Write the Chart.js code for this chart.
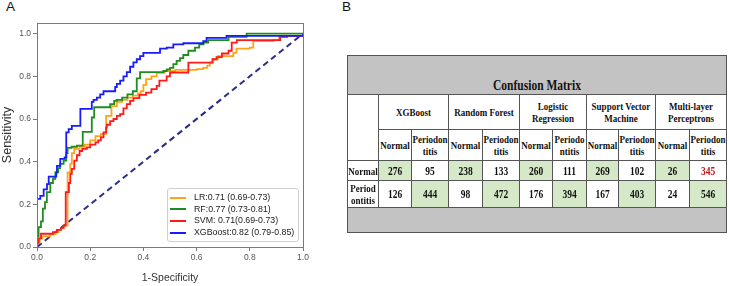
<!DOCTYPE html>
<html>
<head>
<meta charset="utf-8">
<script src="https://cdn.jsdelivr.net/npm/chart.js@4.4.0/dist/chart.umd.min.js"></script>
<style>
    body { margin: 0; width: 729px; height: 286px; background: #fff; position: relative; overflow: hidden; }
    .panelLabel { position: absolute; font: 13.5px "Liberation Sans", Arial, sans-serif; color: #111; }
    #rocBox { position: absolute; left: 0; top: 0; width: 320px; height: 286px; }
    #rocLegend {
        position: absolute; left: 167px; top: 188px; width: 132px; height: 54px;
        border: 1px solid #cfcfcf; border-radius: 3px; background: rgba(255,255,255,0.85);
        box-sizing: border-box; padding-top: 3px;
        font: 8.8px "Liberation Sans", Arial, sans-serif; color: #222;
    }
    .legendRow { height: 11.7px; line-height: 11.7px; white-space: nowrap; }
    .legendLine { display: inline-block; width: 16px; height: 2px; margin: 0 8px 0 2px; vertical-align: middle; }
    #confusionTable {
        position: absolute; left: 347px; top: 55px; width: 379px;
        border-collapse: collapse; table-layout: fixed;
        font: bold 9px "Liberation Serif", "Times New Roman", serif; color: #111;
    }
    #confusionTable td { border: 1px solid #555; text-align: center; vertical-align: middle; padding: 0; white-space: pre-line; line-height: 10px; }
    #confusionTable td.grayRow { background: #c3c3c3; }
    #confusionTable td.titleCell { font-size: 11.5px; vertical-align: bottom; padding-bottom: 4px; }
    #confusionTable td.hit { background: #d5e8c7; font-size: 9.5px; }
    #confusionTable td.miss { font-size: 9.5px; }
    /* the printed table is a little taller than wide */
    #confusionTable span { display: inline-block; transform: scaleY(1.22); }
</style>
</head>
<body>
<div class="panelLabel" style="left:6px;top:-1px;">A</div>
<div class="panelLabel" style="left:342px;top:-1px;">B</div>
<div id="rocBox"><canvas id="rocChart" width="320" height="286"></canvas></div>
<div id="rocLegend"></div>
<table id="confusionTable"></table>

<script>
// ROC curves: false positive rate (1-specificity) and true positive rate (sensitivity)
let lrFpr  = [0, 0, 0.01, 0.02, 0.05, 0.07, 0.08, 0.09, 0.10, 0.115, 0.125, 0.131, 0.14, 0.16, 0.18, 0.20, 0.22, 0.24, 0.26, 0.28, 0.30, 0.32, 0.34, 0.36, 0.38, 0.39, 0.40, 0.41, 0.43, 0.45, 0.48, 0.52, 0.60, 0.625, 0.64, 0.65, 0.66, 0.68, 0.738, 0.75, 0.80, 0.813, 0.888, 0.91, 0.94, 1];
let lrTpr  = [0, 0.02, 0.04, 0.05, 0.06, 0.07, 0.08, 0.09, 0.10, 0.35, 0.39, 0.44, 0.46, 0.47, 0.48, 0.50, 0.52, 0.53, 0.615, 0.66, 0.68, 0.69, 0.70, 0.71, 0.72, 0.73, 0.76, 0.787, 0.80, 0.816, 0.825, 0.83, 0.834, 0.84, 0.85, 0.865, 0.88, 0.895, 0.91, 0.93, 0.935, 0.965, 0.97, 0.985, 0.99, 1];

let rfFpr  = [0, 0, 0.006, 0.015, 0.022, 0.03, 0.037, 0.05, 0.06, 0.069, 0.08, 0.087, 0.10, 0.11, 0.115, 0.13, 0.15, 0.172, 0.206, 0.215, 0.275, 0.29, 0.30, 0.32, 0.34, 0.36, 0.375, 0.3875, 0.475, 0.4875, 0.50, 0.5125, 0.525, 0.5375, 0.55, 0.569, 0.594, 0.61, 0.626, 0.644, 0.72, 0.788, 1];
let rfTpr  = [0, 0.05, 0.093, 0.12, 0.18, 0.21, 0.257, 0.30, 0.32, 0.35, 0.37, 0.39, 0.405, 0.44, 0.465, 0.47, 0.475, 0.54, 0.607, 0.655, 0.67, 0.685, 0.69, 0.70, 0.715, 0.73, 0.79, 0.82, 0.825, 0.833, 0.84, 0.857, 0.872, 0.885, 0.90, 0.92, 0.935, 0.95, 0.958, 0.97, 0.985, 1, 1];

let svmFpr = [0, 0, 0.006, 0.015, 0.06, 0.075, 0.09, 0.10, 0.108, 0.12, 0.125, 0.131, 0.14, 0.15, 0.16, 0.17, 0.1875, 0.20, 0.22, 0.23, 0.24, 0.25, 0.26, 0.2625, 0.275, 0.2875, 0.30, 0.3125, 0.325, 0.3375, 0.35, 0.3625, 0.385, 0.41, 0.43, 0.45, 0.46, 0.4875, 0.50, 0.569, 0.66, 0.675, 0.695, 0.72, 0.732, 0.751, 0.914, 0.94, 1];
let svmTpr = [0, 0.02, 0.04, 0.062, 0.07, 0.08, 0.09, 0.10, 0.257, 0.30, 0.343, 0.366, 0.405, 0.43, 0.45, 0.46, 0.467, 0.48, 0.49, 0.50, 0.514, 0.537, 0.56, 0.573, 0.59, 0.60, 0.615, 0.623, 0.65, 0.67, 0.685, 0.698, 0.713, 0.724, 0.74, 0.755, 0.78, 0.80, 0.818, 0.864, 0.88, 0.89, 0.907, 0.92, 0.958, 0.97, 0.985, 0.99, 1];

let xgbFpr = [0, 0, 0.0125, 0.025, 0.0375, 0.044, 0.0725, 0.075, 0.0875, 0.104, 0.11, 0.119, 0.131, 0.163, 0.206, 0.2125, 0.225, 0.2375, 0.25, 0.294, 0.30, 0.3125, 0.325, 0.3375, 0.35, 0.3625, 0.375, 0.3875, 0.40, 0.4625, 0.4875, 0.5125, 0.55, 0.625, 0.6375, 0.7125, 1];
let xgbTpr = [0, 0.226, 0.24, 0.27, 0.295, 0.33, 0.35, 0.38, 0.413, 0.42, 0.537, 0.553, 0.568, 0.647, 0.68, 0.69, 0.70, 0.715, 0.73, 0.75, 0.765, 0.78, 0.80, 0.82, 0.845, 0.865, 0.88, 0.895, 0.91, 0.93, 0.935, 0.95, 0.955, 0.965, 0.98, 0.99, 1];

let chanceFpr = [0, 1];
let chanceTpr = [0, 1];

let rocLabels = ['LR:0.71 (0.69-0.73)', 'RF:0.77 (0.73-0.81)', 'SVM: 0.71(0.69-0.73)', 'XGBoost:0.82 (0.79-0.85)'];
let rocColors = ['#ffa31a', '#1f8c1f', '#ff1a1a', '#1a1aff'];
let axisTicks = [0, 0.2, 0.4, 0.6, 0.8, 1.0];

// confusion matrix table
let tableTitle = 'Confusion Matrix';
let modelNames = ['XGBoost', 'Random Forest', 'Logistic Regression', 'Support Vector Machine', 'Multi-layer Perceptrons'];
let predictedLabels = [
    ['Normal', 'Periodon\ntitis'],
    ['Normal', 'Periodon\ntitis'],
    ['Normal', 'Periodo\nntitis'],
    ['Normal', 'Periodon\ntitis'],
    ['Normal', 'Periodon\ntitis']
];
let actualLabels = ['Normal', 'Period\nontitis'];
let normalRowCounts = [276, 95, 238, 133, 260, 111, 269, 102, 26, 345];
let periodontitisRowCounts = [126, 444, 98, 472, 176, 394, 167, 403, 24, 546];
let flaggedCells = ['0-9'];   // row-column of the value printed in red
let columnWidths = [31, 33, 37, 34, 37, 33, 34, 32, 37, 34, 37];

function toPoints(xs, ys) {
    return xs.map((x, i) => ({x: x, y: ys[i]}));
}

function rocDataset(label, color, xs, ys, order) {
    return {
        label: label,
        data: toPoints(xs, ys),
        borderColor: color,
        backgroundColor: color,
        borderWidth: 1.8,
        showLine: true,
        stepped: true,
        pointRadius: 0,
        order: order
    };
}

// matplotlib-like box around the axes
const frameBox = {
    id: 'frameBox',
    afterDatasetsDraw(chart) {
        let {ctx, chartArea} = chart;
        ctx.save();
        ctx.strokeStyle = '#7a7a7a';
        ctx.lineWidth = 1;
        ctx.strokeRect(Math.round(chartArea.left) + 0.5, Math.round(chartArea.top) + 0.5,
            Math.round(chartArea.right - chartArea.left), Math.round(chartArea.bottom - chartArea.top));
        ctx.restore();
    }
};

let tickFont = {family: '"Liberation Sans", Arial, sans-serif', size: 8.5};

let rocDatasets = [
    rocDataset(rocLabels[0], rocColors[0], lrFpr, lrTpr, 3),
    rocDataset(rocLabels[1], rocColors[1], rfFpr, rfTpr, 2),
    rocDataset(rocLabels[2], rocColors[2], svmFpr, svmTpr, 1),
    rocDataset(rocLabels[3], rocColors[3], xgbFpr, xgbTpr, 0),
    {
        label: 'chance',
        data: toPoints(chanceFpr, chanceTpr),
        borderColor: '#2b2b8c',
        borderWidth: 2,
        borderDash: [6, 4],
        showLine: true,
        pointRadius: 0,
        order: 4
    }
];

new Chart(document.getElementById('rocChart').getContext('2d'), {
    type: 'scatter',
    data: {datasets: rocDatasets},
    options: {
        responsive: false,
        animation: false,
        layout: {padding: {top: 23, right: 17, left: 0, bottom: 0}},
        plugins: {legend: {display: false}, tooltip: {enabled: false}},
        scales: {
            x: {
                type: 'linear', min: 0, max: 1,
                afterFit: (scale) => { scale.height = 39; },
                afterBuildTicks: (scale) => { scale.ticks = axisTicks.map(v => ({value: v})); },
                ticks: {font: tickFont, color: '#555', padding: 2, maxRotation: 0,
                    callback: (v) => v.toFixed(1)},
                grid: {drawOnChartArea: false, drawTicks: true, tickLength: 4, color: '#777'},
                border: {display: false},
                title: {display: true, text: '1-Specificity', color: '#333', padding: {top: 0, bottom: 2},
                    font: {family: '"Liberation Sans", Arial, sans-serif', size: 10.5}}
            },
            y: {
                type: 'linear', min: 0, max: 1.05,
                afterFit: (scale) => { scale.width = 37; },
                afterBuildTicks: (scale) => { scale.ticks = axisTicks.map(v => ({value: v})); },
                ticks: {font: tickFont, color: '#555', padding: 2,
                    callback: (v) => v.toFixed(1)},
                grid: {drawOnChartArea: false, drawTicks: true, tickLength: 4, color: '#777'},
                border: {display: false},
                title: {display: true, text: 'Sensitivity', color: '#333', padding: 0,
                    font: {family: '"Liberation Sans", Arial, sans-serif', size: 12.5}}
            }
        }
    },
    plugins: [frameBox]
});

// legend box in the lower right of the axes, built from the datasets
let legendBox = document.getElementById('rocLegend');
rocDatasets.slice(0, 4).forEach(ds => {
    let row = document.createElement('div');
    row.className = 'legendRow';
    row.innerHTML = '<span class="legendLine" style="background:' + ds.borderColor + '"></span>' + ds.label;
    legendBox.appendChild(row);
});

// confusion matrix
function cell(text, attrs) {
    return '<td' + (attrs || '') + '><span>' + text + '</span></td>';
}

function buildTable() {
    let table = document.getElementById('confusionTable');
    let html = '<colgroup>' + columnWidths.map(w => '<col style="width:' + w + 'px">').join('') + '</colgroup>';
    html += '<tr>' + cell(tableTitle, ' class="grayRow titleCell" colspan="11" style="height:34px"') + '</tr>';
    html += '<tr><td rowspan="2"></td>' + modelNames.map(m => cell(m, ' colspan="2" style="height:34px"')).join('') + '</tr>';
    html += '<tr>' + predictedLabels.map(p => cell(p[0], ' style="height:30px"') + cell(p[1])).join('') + '</tr>';
    [normalRowCounts, periodontitisRowCounts].forEach((counts, r) => {
        html += '<tr>' + cell(actualLabels[r], ' style="height:' + (r === 0 ? 19 : 26) + 'px"');
        counts.forEach((v, c) => {
            let isHit = (c % 2) === r;
            let style = flaggedCells.includes(r + '-' + c) ? ' style="color:#c41a1a"' : '';
            html += cell(v, ' class="' + (isHit ? 'hit' : 'miss') + '"' + style);
        });
        html += '</tr>';
    });
    html += '<tr><td class="grayRow" colspan="11" style="height:24px"></td></tr>';
    table.innerHTML = html;
}
buildTable();
</script>
</body>
</html>
